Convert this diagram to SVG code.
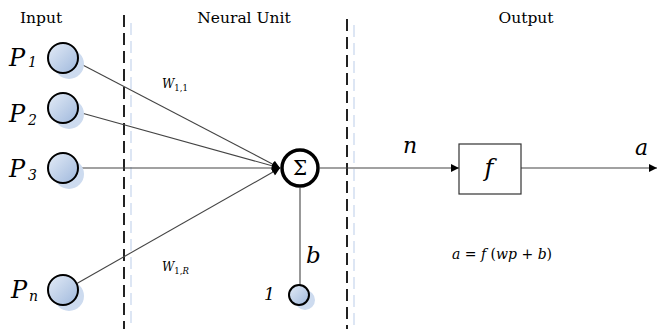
<svg xmlns="http://www.w3.org/2000/svg" width="657" height="329" viewBox="0 0 657 329">
<defs>
<linearGradient id="g" x1="0" y1="0" x2="1" y2="1">
<stop offset="0" stop-color="#e4ecf7"/>
<stop offset="1" stop-color="#9fb8dc"/>
</linearGradient>
<marker id="ah" viewBox="0 0 10 10" refX="10" refY="5" markerWidth="9" markerHeight="8" markerUnits="userSpaceOnUse" orient="auto">
<path d="M0,0 L10,5 L0,10 Z" fill="#000"/>
</marker>
</defs>
<style>
text{fill:#000;font-family:'DejaVu Serif',serif}
.hdr{font-size:15.5px}
.it{font-style:italic}
.P{font-size:24px;font-style:italic}
.sub{font-size:14px;font-style:italic}
.w{font-size:12px;font-style:italic}
.ws{font-size:8.5px}
.inp{fill:url(#g);stroke:#000;stroke-width:2}
.sh{fill:#cddbef;stroke:none}
.ln{stroke:#444;stroke-width:1.1;fill:none}
.dk{stroke:#222;stroke-width:2;stroke-dasharray:12 6;fill:none}
.lt{stroke:#dde6f4;stroke-width:2;stroke-dasharray:12 6;fill:none}
</style>
<rect width="657" height="329" fill="#fff"/>
<g id="dividers">
<line class="lt" x1="131" y1="23" x2="131" y2="329"/>
<line class="dk" x1="124" y1="15" x2="124" y2="329"/>
<line class="lt" x1="354" y1="25" x2="354" y2="329"/>
<line class="dk" x1="347" y1="19" x2="347" y2="329"/>
</g>
<g id="headers">
<text class="hdr" x="41" y="23" text-anchor="middle">Input</text>
<text class="hdr" x="244" y="23" text-anchor="middle">Neural Unit</text>
<text class="hdr" x="526" y="23" text-anchor="middle">Output</text>
</g>
<g id="connectors">
<line class="ln" x1="77" y1="62" x2="280" y2="168" marker-end="url(#ah)"/>
<line class="ln" x1="78" y1="112" x2="280" y2="168" marker-end="url(#ah)"/>
<line class="ln" x1="78" y1="168" x2="280" y2="168" marker-end="url(#ah)"/>
<line class="ln" x1="76" y1="284" x2="280" y2="168" marker-end="url(#ah)"/>
<line class="ln" x1="300" y1="188" x2="300" y2="285"/>
<line class="ln" x1="320" y1="168" x2="459" y2="168" marker-end="url(#ah)"/>
<line class="ln" x1="521" y1="168" x2="657" y2="168" marker-end="url(#ah)"/>
</g>
<g id="p1">
<circle class="sh" cx="69" cy="64" r="15"/>
<circle class="inp" cx="63" cy="58" r="15"/>
<text class="P" x="9" y="66">P</text><text class="sub" x="28" y="67">1</text>
</g>
<g id="p2">
<circle class="sh" cx="69" cy="114" r="15"/>
<circle class="inp" cx="63" cy="108" r="15"/>
<text class="P" x="9" y="122">P</text><text class="sub" x="28" y="125">2</text>
</g>
<g id="p3">
<circle class="sh" cx="69" cy="174" r="15"/>
<circle class="inp" cx="63" cy="168" r="15"/>
<text class="P" x="9" y="177">P</text><text class="sub" x="28" y="180">3</text>
</g>
<g id="pn">
<circle class="sh" cx="69" cy="296" r="15"/>
<circle class="inp" cx="63" cy="290" r="15"/>
<text class="P" x="11" y="298">P</text><text class="sub" x="29" y="301">n</text>
</g>
<g id="w11">
<text class="w" x="162" y="88">W<tspan class="ws" font-style="normal" dy="3">1,1</tspan></text>
</g>
<g id="w1r">
<text class="w" x="162" y="271">W<tspan class="ws" font-style="normal" dy="3">1,</tspan><tspan class="ws">R</tspan></text>
</g>
<g id="sum">
<circle cx="300" cy="168" r="18" fill="#fff" stroke="#000" stroke-width="3.5"/>
<text x="300" y="175" text-anchor="middle" font-size="20">Σ</text>
</g>
<g id="bias">
<circle class="sh" cx="305" cy="300" r="10"/>
<circle class="inp" cx="299" cy="295" r="10" stroke-width="1.6"/>
<text class="it" x="306" y="263" font-size="23">b</text>
<text class="it" x="264" y="300" font-size="17">1</text>
</g>
<g id="act">
<rect x="459" y="144" width="62" height="50" fill="#fff" stroke="#333" stroke-width="1.2"/>
<text class="it" x="489" y="176" text-anchor="middle" font-size="24">f</text>
</g>
<g id="labels">
<text class="it" x="403" y="153" font-size="22">n</text>
<text class="it" x="635" y="155" font-size="22">a</text>
<text x="502" y="259" font-size="14" text-anchor="middle"><tspan font-style="italic">a</tspan> = <tspan font-style="italic">f</tspan> (<tspan font-style="italic">wp</tspan> + <tspan font-style="italic">b</tspan>)</text>
</g>
</svg>
